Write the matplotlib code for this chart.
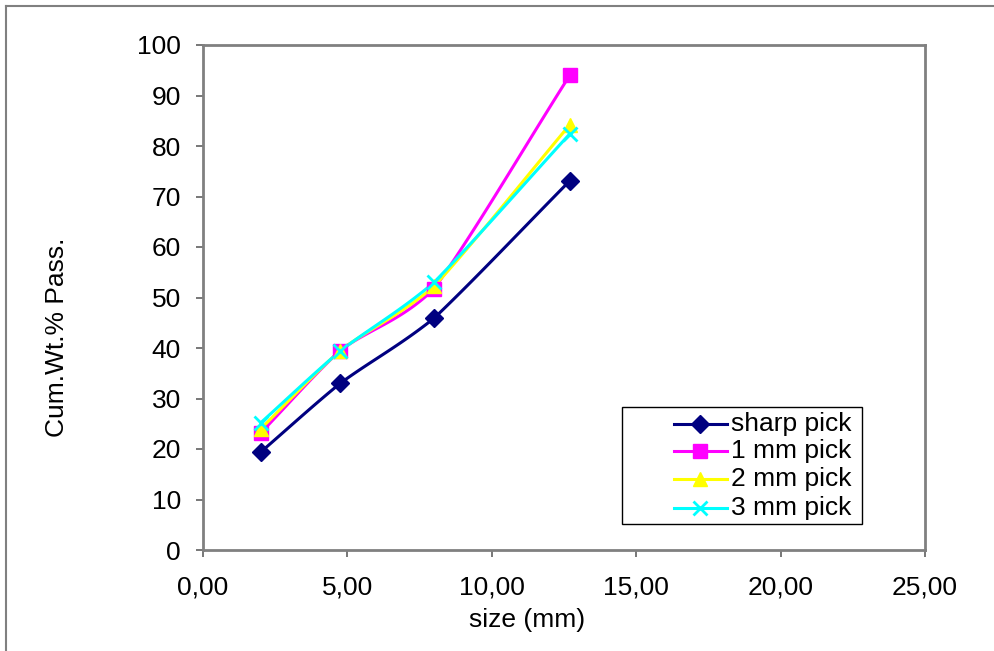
import numpy as np
import matplotlib
matplotlib.use("Agg")
import matplotlib.pyplot as plt
from matplotlib.lines import Line2D

plt.rcParams['font.family'] = ['Liberation Sans', 'DejaVu Sans']

size_mm = [2.0, 4.75, 8.0, 12.7]
sharp_pick = [19.4, 33.0, 45.9, 73.1]
pick_1mm = [23.2, 39.5, 51.7, 94.0]
pick_2mm = [24.0, 39.5, 52.2, 84.2]
pick_3mm = [25.2, 39.4, 53.0, 82.4]
series_labels = ["sharp pick", "1 mm pick", "2 mm pick", "3 mm pick"]
x_ticks = [0, 5, 10, 15, 20, 25]
y_ticks = [0, 10, 20, 30, 40, 50, 60, 70, 80, 90, 100]

W, H = 995, 651
FS = 19


def smooth(x, y, n=40):
    """Catmull-Rom style curve through the given points (smoothed line)."""
    x = np.asarray(x, float)
    y = np.asarray(y, float)
    px = np.concatenate([[2 * x[0] - x[1]], x, [2 * x[-1] - x[-2]]])
    py = np.concatenate([[2 * y[0] - y[1]], y, [2 * y[-1] - y[-2]]])
    xs, ys = [], []
    t = np.linspace(0, 1, n)
    for i in range(1, len(px) - 2):
        p0, p1, p2, p3 = [np.array([px[j], py[j]]) for j in (i - 1, i, i + 1, i + 2)]
        m1 = (p2 - p0) / 2 * 0.5 + (p2 - p1) * 0.5
        m2 = (p3 - p1) / 2 * 0.5 + (p2 - p1) * 0.5
        h00 = 2 * t**3 - 3 * t**2 + 1
        h10 = t**3 - 2 * t**2 + t
        h01 = -2 * t**3 + 3 * t**2
        h11 = t**3 - t**2
        pts = (np.outer(h00, p1) + np.outer(h10, m1) + np.outer(h01, p2) + np.outer(h11, m2))
        xs.extend(pts[:, 0])
        ys.extend(pts[:, 1])
    return xs, ys


def fx(px):
    return px / W


def fy(py):
    return 1 - py / H


fig = plt.figure(figsize=(W / 100, H / 100), dpi=100)
ax = fig.add_axes([fx(203), fy(550), 722 / W, 505 / H])

styles = [
    (sharp_pick, "#000080", "D", 9, 1),
    (pick_1mm, "#FF00FF", "s", 9.5, 1),
    (pick_2mm, "#FFFF00", "^", 10, 1),
    (pick_3mm, "#00FFFF", "x", 10, 2),
]

for vals, col, mk, ms, mew in styles:
    sx, sy = smooth(size_mm, vals)
    ax.plot(sx, sy, color=col, lw=2.2, zorder=3)
    ax.plot(size_mm, vals, ls='none', marker=mk, ms=ms, color=col,
            markeredgecolor=col, markeredgewidth=mew, zorder=4)

ax.set_xlim(0, 25)
ax.set_ylim(0, 100)
ax.set_xticks(x_ticks)
ax.set_xticklabels([f"{v:.2f}".replace('.', ',') for v in x_ticks])
ax.set_yticks(y_ticks)
ax.set_yticklabels([str(v) for v in y_ticks])
ax.tick_params(axis='both', labelsize=FS, colors='black', length=5, width=1.2,
               direction='out')
ax.tick_params(axis='both', color='#606060')
ax.tick_params(axis='y', pad=11)
ax.tick_params(axis='x', pad=13)
for sp in ax.spines.values():
    sp.set_color('#808080')
    sp.set_linewidth(2)

fig.text(fx(527), fy(620), "size (mm)", fontsize=FS, ha='center', va='center')
fig.text(fx(57), fy(337), "Cum.Wt.% Pass.", fontsize=FS, ha='center', va='center',
         rotation=90)

# legend box
fig.patches.append(plt.Rectangle((fx(622), fy(524)), 240 / W, 117 / H,
                                 transform=fig.transFigure, fill=True, facecolor='white',
                                 edgecolor='black', lw=1, zorder=5))
row_y = [424, 451, 479, 508]
for (vals, col, mk, ms, mew), lab, ry in zip(styles, series_labels, row_y):
    fig.add_artist(Line2D([fx(674), fx(727)], [fy(ry), fy(ry)], transform=fig.transFigure,
                          color=col, lw=2.2, zorder=6))
    fig.add_artist(Line2D([fx(700)], [fy(ry)], transform=fig.transFigure, ls='none',
                          marker=mk, ms=ms, color=col, markeredgecolor=col,
                          markeredgewidth=mew, zorder=7))
    fig.text(fx(731), fy(ry), lab, fontsize=FS, ha='left', va='center', zorder=8)

# chart area border (left and top edges)
fig.add_artist(Line2D([fx(6.5), fx(6.5)], [0, fy(6)], transform=fig.transFigure,
                      color='#808080', lw=1.5))
fig.add_artist(Line2D([fx(6.5), 1], [fy(6), fy(6)], transform=fig.transFigure,
                      color='#808080', lw=1.5))

fig.savefig("out.png", dpi=100)
